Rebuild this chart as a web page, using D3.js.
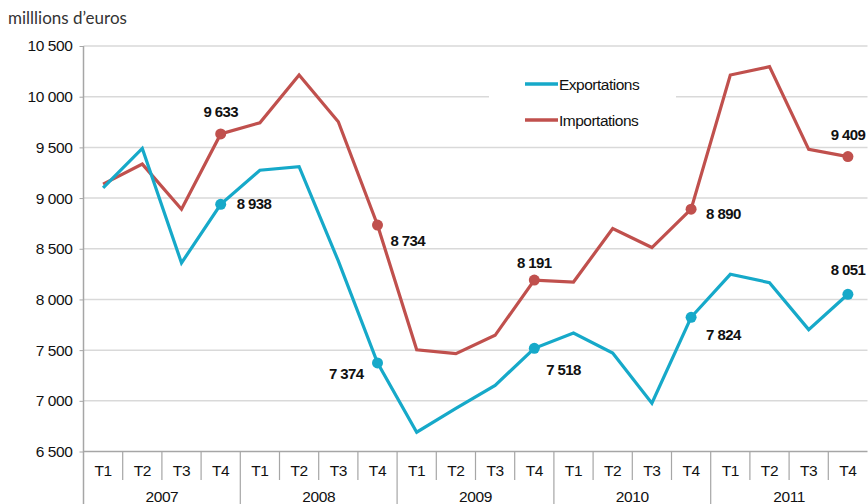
<!DOCTYPE html>
<html>
<head>
<meta charset="utf-8">
<script src="https://cdn.jsdelivr.net/npm/d3@7"></script>
<style>
  body { margin: 0; background: #fff; }
  svg { display: block; }
</style>
</head>
<body>
<svg id="chart" width="868" height="504"></svg>
<script>
// data (millions d'euros, quarterly)
const years = ["2007", "2008", "2009", "2010", "2011"];
const quarters = ["T1", "T2", "T3", "T4"];
const exportations = [9100, 9490, 8360, 8938, 9275, 9310, 8380, 7374, 6690, 6925, 7152, 7518,
  7668, 7471, 6977, 7824, 8248, 8166, 7702, 8051];
const importations = [9137, 9335, 8890, 9633, 9743, 10214, 9753, 8734, 7504, 7465, 7646, 8191,
  8172, 8699, 8512, 8890, 10214, 10296, 9480, 9409];
const yTicks = [6500, 7000, 7500, 8000, 8500, 9000, 9500, 10000, 10500];

// where each T4 label sits relative to its dot
const labelPos = {
  exp: [[16, 5, "start"], [-14, 16, "end"], [12, 27, "start"], [15, 23, "start"], [0, -19, "middle"]],
  imp: [[0, -17, "middle"], [13, 21, "start"], [0, -12, "middle"], [15, 10, "start"], [0, -17, "middle"]]
};

const blue = "#16a9c9", red = "#c0504d", grid = "#d9d9d9", axisCol = "#a6a6a6";
const fontNarrow = "'Liberation Sans Narrow', 'Arial Narrow', 'Liberation Sans', Arial, sans-serif";

const svg = d3.select("#chart");
const mLeft = 83.5, mRight = 867.5, mTop = 46, mBottom = 451.5;

const keys = d3.range(exportations.length);
const x = d3.scaleBand().domain(keys).range([mLeft, mRight]);
const y = d3.scaleLinear().domain([6500, 10500]).range([mBottom, mTop]);
const cx = i => x(i) + x.bandwidth() / 2;
const fmt = v => d3.format(",")(v).replace(",", " ");

// gridlines
svg.append("g")
  .selectAll("line")
  .data(yTicks.slice(1))
  .enter()
  .append("line")
  .attr("x1", mLeft).attr("x2", mRight)
  .attr("y1", d => y(d)).attr("y2", d => y(d))
  .attr("stroke", grid).attr("stroke-width", 1.5);

// y axis
const yAxis = d3.axisLeft(y).tickValues(yTicks).tickSize(4).tickPadding(7).tickFormat(fmt);
const ya = svg.append("g").attr("transform", `translate(${mLeft},0)`).call(yAxis);
ya.select(".domain").remove();
ya.selectAll("line").attr("stroke", axisCol);
ya.selectAll("text").attr("font-family", fontNarrow).attr("font-size", 15.5)
  .attr("letter-spacing", -0.4).attr("fill", "#111");
svg.append("line")
  .attr("x1", mLeft).attr("x2", mLeft).attr("y1", mTop).attr("y2", 504)
  .attr("stroke", axisCol).attr("stroke-width", 1.5);

// bottom category axis (quarters + years)
svg.append("line")
  .attr("x1", mLeft).attr("x2", mRight).attr("y1", mBottom).attr("y2", mBottom)
  .attr("stroke", axisCol).attr("stroke-width", 1.5);
const sep = svg.append("g").attr("stroke", axisCol).attr("stroke-width", 1.2);
keys.slice(1).forEach(i => {
  const isYear = i % 4 === 0;
  sep.append("line")
    .attr("x1", x(i)).attr("x2", x(i))
    .attr("y1", mBottom).attr("y2", isYear ? 504 : 480);
});
svg.append("g")
  .selectAll("text")
  .data(keys)
  .enter()
  .append("text")
  .attr("x", cx).attr("y", 476)
  .attr("text-anchor", "middle")
  .attr("font-family", fontNarrow).attr("font-size", 15.5).attr("letter-spacing", -0.4).attr("fill", "#111")
  .text(i => quarters[i % 4]);
svg.append("g")
  .selectAll("text")
  .data(years)
  .enter()
  .append("text")
  .attr("x", (d, j) => (x(j * 4) + x(j * 4 + 3) + x.bandwidth()) / 2)
  .attr("y", 502)
  .attr("text-anchor", "middle")
  .attr("font-family", fontNarrow).attr("font-size", 15.5).attr("letter-spacing", -0.4).attr("fill", "#111")
  .text(d => d);

// legend box hides the gridline behind it
svg.append("rect").attr("x", 489).attr("y", 60).attr("width", 187).attr("height", 80).attr("fill", "#fff");
const legend = [["Exportations", blue, 84], ["Importations", red, 120]];
legend.forEach(([name, col, ly]) => {
  svg.append("line").attr("x1", 525).attr("x2", 558).attr("y1", ly).attr("y2", ly)
    .attr("stroke", col).attr("stroke-width", 3.5);
  svg.append("text").attr("x", 559).attr("y", ly + 6)
    .attr("font-family", fontNarrow).attr("font-size", 15.5).attr("letter-spacing", -0.5).attr("fill", "#111")
    .text(name);
});

// series lines, dots and labels
const line = d3.line().x((d, i) => cx(i)).y(d => y(d));
const series = [["imp", importations, red], ["exp", exportations, blue]];
series.forEach(([key, vals, col]) => {
  svg.append("path").datum(vals)
    .attr("d", line).attr("fill", "none")
    .attr("stroke", col).attr("stroke-width", 3.2).attr("stroke-linejoin", "miter");
  const pts = keys.filter(i => i % 4 === 3);
  svg.append("g").selectAll("circle")
    .data(pts).enter().append("circle")
    .attr("cx", cx).attr("cy", i => y(vals[i])).attr("r", 5.5).attr("fill", col);
  svg.append("g").selectAll("text")
    .data(pts).enter().append("text")
    .attr("x", (i, j) => cx(i) + labelPos[key][j][0])
    .attr("y", (i, j) => y(vals[i]) + labelPos[key][j][1])
    .attr("text-anchor", (i, j) => labelPos[key][j][2])
    .attr("font-family", fontNarrow).attr("font-size", 15).attr("font-weight", "bold")
    .attr("letter-spacing", -0.6).attr("fill", "#111")
    .text(i => fmt(vals[i]));
});

// unit title
svg.append("text").attr("x", 8).attr("y", 24)
  .attr("font-family", "Lato, 'Open Sans', sans-serif").attr("font-size", 17).attr("fill", "#333")
  .text("milllions d\u2019euros");
</script>
</body>
</html>
